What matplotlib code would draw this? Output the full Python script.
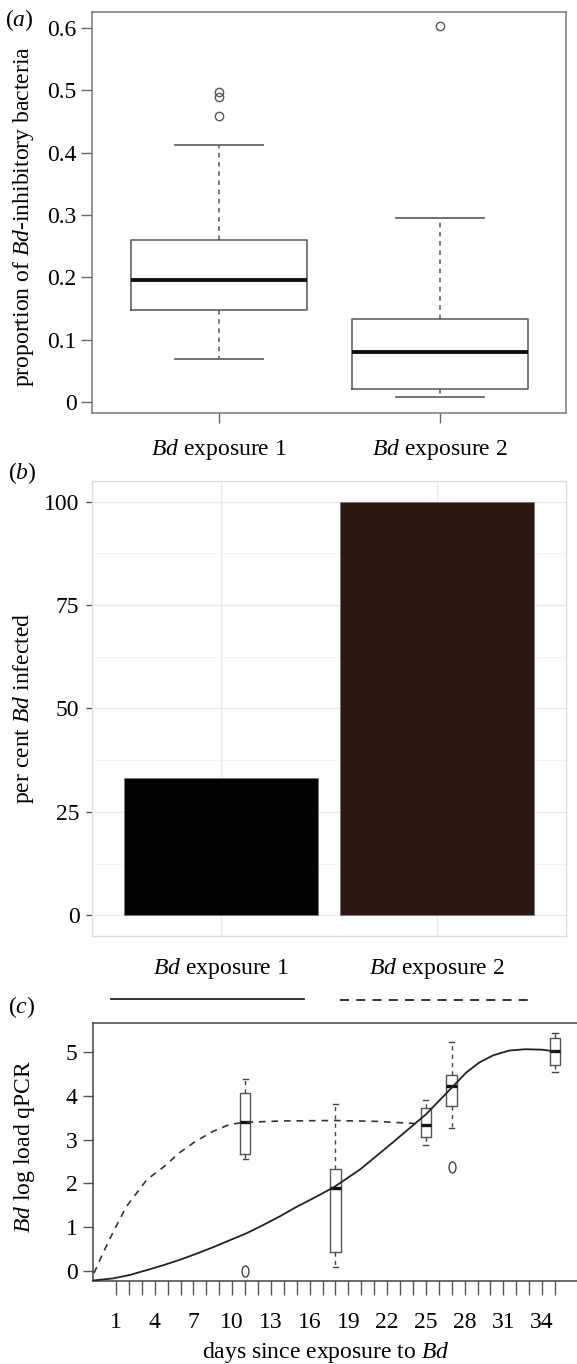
import matplotlib
matplotlib.use("Agg")
import matplotlib.pyplot as plt
from matplotlib.lines import Line2D
from matplotlib.path import Path
from matplotlib.ticker import MultipleLocator

plt.rcParams['font.family'] = ['Liberation Serif', 'DejaVu Serif']
plt.rcParams['mathtext.fontset'] = 'custom'
plt.rcParams['mathtext.rm'] = 'Liberation Serif'
plt.rcParams['mathtext.it'] = 'Liberation Serif:italic'

# ---- data ----
groups = [r'$\it{Bd}$ exposure 1', r'$\it{Bd}$ exposure 2']

# (a) proportion of Bd-inhibitory bacteria, box stats
a_whislo = [0.068, 0.0075]
a_q1 = [0.148, 0.020]
a_med = [0.195, 0.080]
a_q3 = [0.260, 0.133]
a_whishi = [0.413, 0.295]
a_fliers = [[0.459, 0.490, 0.497], [0.603]]

# (b) per cent infected
pct_infected = [33.3, 100]
bar_colors = ['#030303', '#2c1810']

# (c) Bd load by day
c_days = [11, 18, 25, 27, 35]
c_whislo = [2.55, 0.08, 2.89, 3.27, 4.56]
c_q1 = [2.68, 0.44, 3.07, 3.78, 4.70]
c_med = [3.40, 1.90, 3.33, 4.24, 5.02]
c_q3 = [4.07, 2.33, 3.73, 4.48, 5.32]
c_whishi = [4.40, 3.81, 3.92, 5.24, 5.45]
c_fliers = [[0.0], [], [], [2.38], []]

# fitted curves
exp1_days = [-0.8, 0.8, 2.1, 3.4, 4.65, 5.9, 7.2, 8.5, 9.8, 11.1, 12.4, 13.7, 14.95,
             16.2, 17.9, 19.9, 22.4, 25.0, 27.0, 28.1, 29.1, 30.2, 31.45, 32.7,
             34.0, 35.0]
exp1_load = [-0.22, -0.17, -0.09, 0.02, 0.13, 0.25, 0.39, 0.54, 0.70, 0.86, 1.05, 1.25,
             1.46, 1.65, 1.92, 2.32, 2.93, 3.58, 4.19, 4.53, 4.76, 4.93, 5.04, 5.07,
             5.06, 5.02]
exp2_days = [-0.7, 0.0, 0.8, 1.8, 3.4, 4.7, 5.9, 7.2, 8.5, 9.8, 11.0, 14.0,
             17.9, 21.2, 24.2, 24.7]
exp2_load = [-0.05, 0.41, 0.90, 1.47, 2.09, 2.38, 2.70, 2.97, 3.19, 3.35, 3.40, 3.43,
             3.44, 3.42, 3.37, 3.36]

day_ticks = list(range(1, 36))
day_labels = [str(d) if (d - 1) % 3 == 0 else '' for d in day_ticks]

FS = 17
W, H = 577, 1364
fig = plt.figure(figsize=(W / 100, H / 100), dpi=100)


def box_stats(lo, q1, med, q3, hi, fl):
    return [dict(whislo=lo[i], q1=q1[i], med=med[i], q3=q3[i], whishi=hi[i], fliers=fl[i])
            for i in range(len(med))]


# ---------------- (a) ----------------
ax_a = fig.add_axes([92 / W, 1 - 413 / H, (566 - 92) / W, (413 - 12) / H])
ax_a.bxp(box_stats(a_whislo, a_q1, a_med, a_q3, a_whishi, a_fliers),
         positions=[1, 2], widths=0.8, capwidths=0.4, manage_ticks=False,
         boxprops=dict(color='#555555', lw=1.1),
         whiskerprops=dict(color='#555555', lw=1.1, linestyle=(0, (3, 3))),
         capprops=dict(color='#666666', lw=1.3),
         medianprops=dict(color='#111111', lw=2.8),
         flierprops=dict(marker='o', markersize=6, markerfacecolor='none',
                         markeredgecolor='#555555', markeredgewidth=1.0))
ax_a.set_xlim(0.425, 2.57)
ax_a.set_ylim(-0.018, 0.626)
ax_a.set_yticks([0, 0.1, 0.2, 0.3, 0.4, 0.5, 0.6])
ax_a.set_yticklabels(['0', '0.1', '0.2', '0.3', '0.4', '0.5', '0.6'])
ax_a.set_xticks([1, 2])
ax_a.set_xticklabels(groups)
ax_a.tick_params(axis='y', length=8, width=1, color='#666666', pad=3, labelsize=FS)
ax_a.tick_params(axis='x', length=7, width=1, color='#666666', pad=10, labelsize=FS)
for s in ax_a.spines.values():
    s.set_color('#777777')
    s.set_linewidth(1.1)
ax_a.set_ylabel(r'proportion of $\it{Bd}$-inhibitory bacteria', fontsize=FS)
ax_a.yaxis.set_label_coords(-0.118, 0.49)
fig.text(5 / W, 1 - 20 / H, r'($\it{a}$)', fontsize=FS, va='center')

# ---------------- (b) ----------------
ax_b = fig.add_axes([92 / W, 1 - 936 / H, (566 - 92) / W, (936 - 481) / H])
ax_b.bar([1, 2], pct_infected, width=0.9, color=bar_colors, edgecolor='#777777',
         linewidth=0.6, zorder=3)
ax_b.set_xlim(0.4, 2.6)
ax_b.set_ylim(-5, 105)
ax_b.set_yticks([0, 25, 50, 75, 100])
ax_b.yaxis.set_minor_locator(MultipleLocator(12.5))
ax_b.set_xticks([1, 2])
ax_b.set_xticklabels(groups)
ax_b.grid(True, which='major', color='#ebebeb', lw=0.9, zorder=0)
ax_b.grid(True, which='minor', axis='y', color='#f2f2f2', lw=0.6, zorder=0)
ax_b.set_axisbelow(True)
ax_b.tick_params(axis='y', which='major', length=4, width=0.9, color='#444444', pad=5, labelsize=FS)
ax_b.tick_params(axis='y', which='minor', length=0)
ax_b.tick_params(axis='x', length=0, pad=14.5, labelsize=FS)
for s in ax_b.spines.values():
    s.set_color('#dddddd')
    s.set_linewidth(1.0)
ax_b.set_ylabel(r'per cent $\it{Bd}$ infected', fontsize=FS)
ax_b.yaxis.set_label_coords(-0.118, 0.5)
fig.text(8 / W, 1 - 473 / H, r'($\it{b}$)', fontsize=FS, va='center')

# ---------------- (c) ----------------
ax_c = fig.add_axes([92.7 / W, 1 - 1281 / H, (577 - 92.7) / W, (1281 - 1023) / H])
ell = Path.unit_circle()
ell = Path(ell.vertices * [0.62, 1.0], ell.codes)
ax_c.bxp(box_stats(c_whislo, c_q1, c_med, c_q3, c_whishi, c_fliers),
         positions=c_days, widths=0.82, capwidths=0.4, manage_ticks=False,
         boxprops=dict(color='#555555', lw=1.0),
         whiskerprops=dict(color='#444444', lw=1.0, linestyle=(0, (3, 3))),
         capprops=dict(color='#444444', lw=1.0),
         medianprops=dict(color='#111111', lw=2.4),
         flierprops=dict(marker=ell, markersize=8, markerfacecolor='none',
                         markeredgecolor='#444444', markeredgewidth=1.0))
ax_c.plot(exp1_days, exp1_load, color='#222222', lw=1.3, zorder=4)
ax_c.plot(exp2_days, exp2_load, color='#333333', lw=1.2, linestyle=(0, (4, 3.5)), zorder=4)
ax_c.set_xlim(-0.8, 36.7)
ax_c.set_ylim(-0.23, 5.67)
ax_c.set_yticks([0, 1, 2, 3, 4, 5])
ax_c.set_xticks(day_ticks)
ax_c.set_xticklabels(day_labels)
ax_c.tick_params(axis='y', length=7, width=1, color='#555555', pad=4, labelsize=FS)
ax_c.tick_params(axis='x', length=10, width=1, color='#555555', pad=12, labelsize=FS)
for s in ax_c.spines.values():
    s.set_color('#444444')
    s.set_linewidth(1.1)
ax_c.spines['right'].set_visible(False)
ax_c.set_ylabel(r'$\it{Bd}$ log load qPCR', fontsize=FS)
ax_c.yaxis.set_label_coords(-0.115, 0.52)
ax_c.set_xlabel(r'days since exposure to $\it{Bd}$', fontsize=FS)
ax_c.xaxis.set_label_coords(0.482, -0.227)
fig.text(8 / W, 1 - 1007 / H, r'($\it{c}$)', fontsize=FS, va='center')

# legend key lines for (c), sitting under the group names of (b)
fig.add_artist(Line2D([111 / W, 304 / W], [1 - 999 / H] * 2, color='#222222', lw=1.3))
fig.add_artist(Line2D([340 / W, 528 / W], [1 - 1000 / H] * 2, color='#222222', lw=1.3,
                      linestyle=(0, (5, 4))))

fig.savefig('out.png', dpi=100)
